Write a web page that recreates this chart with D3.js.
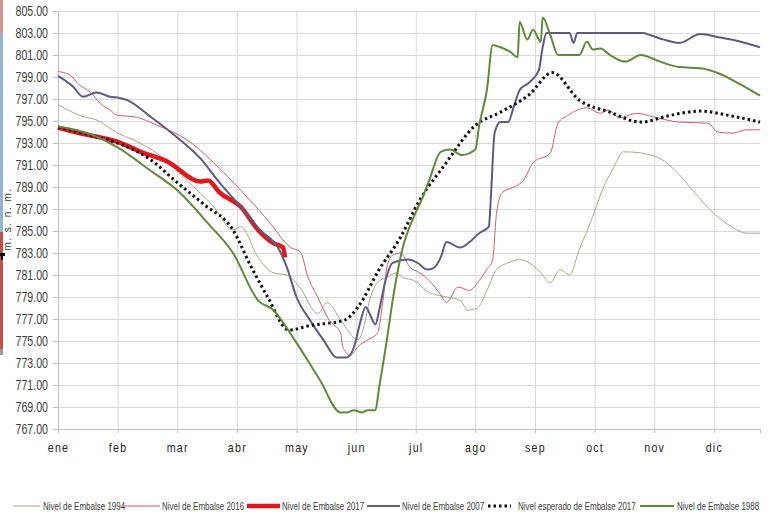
<!DOCTYPE html>
<html>
<head>
<meta charset="utf-8">
<script src="https://cdn.jsdelivr.net/npm/d3@7"></script>
<style>
  body { margin: 0; background: #fff; }
  svg { display: block; }
  text { font-family: "Liberation Sans", Arial, sans-serif; }
</style>
</head>
<body>
<svg width="771" height="515"></svg>
<script>
// **** Data (day of year, m.s.n.m.) ****
var months = ['ene','feb','mar','abr','may','jun','jul','ago','sep','oct','nov','dic'];
var yTicks = d3.range(767, 806, 2);

var nivel1994 = [[0,796.5],[13,795.4],[20,795.1],[31,793.9],[39,793.3],[55,791.6],[67,789.6],[81,787.2],[91,785.1],[95,785.4],[104,782.6],[112,781.2],[119,781.0],[126,779.8],[135,777.5],[140,778.5],[147,776.9],[156,775.1],[159,776.3],[162,778.7],[166,780.3],[171,780.8],[176,781.2],[179,780.8],[185,780.5],[193,779.4],[202,779.0],[209,778.7],[213,777.8],[218,778.0],[223,779.6],[228,781.5],[234,782.1],[240,782.4],[245,782.1],[251,781.2],[256,780.3],[261,781.5],[266,781.0],[271,783.3],[278,786.3],[283,788.7],[289,790.8],[294,792.2],[303,792.1],[308,791.9],[313,791.6],[322,790.3],[330,788.7],[341,786.6],[351,785.3],[358,784.8],[365,784.8]];

var nivel2016 = [[0,799.5],[6,799.2],[11,798.3],[17,797.6],[22,796.6],[27,796.0],[31,795.5],[39,795.4],[53,794.5],[67,793.3],[81,791.2],[95,788.7],[109,786.0],[121,783.5],[126,783.1],[130,780.8],[135,779.0],[141,776.9],[147,775.7],[148,774.5],[152,773.7],[156,774.5],[161,775.1],[166,775.7],[169,778.7],[171,781.7],[174,782.8],[178,783.0],[183,781.7],[188,781.2],[193,780.5],[199,779.2],[202,778.5],[208,779.9],[214,779.6],[219,780.5],[223,781.5],[226,782.4],[228,786.6],[231,788.5],[237,789.0],[242,789.6],[247,791.2],[256,792.1],[260,794.8],[265,795.5],[275,796.2],[282,795.7],[286,796.0],[292,795.3],[301,795.7],[309,795.4],[323,794.9],[338,794.8],[343,794.0],[351,793.9],[358,794.2],[365,794.2]];

var nivel2017 = [[0,794.4],[11,793.9],[22,793.5],[31,793.1],[43,792.2],[57,791.3],[74,789.5],[78,789.6],[84,788.5],[95,787.2],[104,785.1],[112,783.9],[117,783.5],[118,782.6]];

var nivel2007 = [[0,799.1],[8,798.1],[13,797.2],[20,797.6],[27,797.2],[32,797.1],[36,796.9],[48,795.4],[62,793.5],[74,791.6],[84,789.4],[95,787.2],[105,785.1],[115,783.3],[119,781.7],[124,779.0],[131,776.9],[138,775.1],[145,773.5],[150,773.5],[154,774.5],[157,776.6],[160,778.1],[162,777.5],[165,776.5],[167,777.8],[170,780.3],[174,782.1],[182,782.4],[187,782.1],[192,781.5],[195,781.6],[199,782.6],[202,784.0],[209,783.5],[214,784.0],[219,784.8],[224,785.4],[225,787.8],[227,793.9],[230,794.9],[234,794.9],[237,796.3],[240,797.8],[245,798.5],[250,799.6],[252,801.7],[254,803.0],[266,803.0],[268,802.1],[270,803.0],[304,803.0],[308,802.8],[315,802.4],[323,802.1],[334,802.9],[344,802.6],[355,802.2],[365,801.7]];

var esperado2017 = [[0,794.45],[17,793.7],[31,793.0],[48,791.5],[62,789.4],[76,787.4],[91,785.1],[100,781.9],[109,779.0],[120,776.0],[131,776.4],[149,776.9],[156,778.1],[167,781.5],[178,784.4],[188,787.8],[201,791.0],[217,794.6],[230,795.8],[245,797.4],[257,799.4],[271,796.9],[287,795.8],[303,794.9],[318,795.5],[334,795.9],[349,795.5],[365,794.9]];

var nivel1988 = [[0,794.5],[17,793.8],[31,792.6],[48,790.5],[62,788.7],[78,785.7],[91,783.0],[104,778.7],[112,777.8],[123,775.1],[136,771.5],[147,768.5],[150,768.5],[154,768.7],[158,768.5],[161,768.7],[165,768.7],[167,770.8],[171,775.1],[174,778.7],[179,783.3],[185,786.3],[189,787.8],[193,789.6],[199,792.2],[204,792.4],[210,791.9],[217,792.4],[219,794.6],[223,797.8],[226,801.9],[230,801.7],[235,801.3],[239,800.8],[240,804.0],[244,802.4],[247,803.3],[251,802.2],[252,804.4],[256,802.8],[260,801.0],[266,801.0],[271,801.0],[275,802.2],[278,801.5],[282,801.6],[287,801.0],[295,800.4],[303,801.0],[313,800.4],[323,799.9],[334,799.8],[344,799.3],[355,798.3],[365,797.3]];

var series = [
  { name: 'Nivel de Embalse 1994', data: nivel1994, color: '#a6a892', width: 1, dash: null, l1: 13, l2: 40, tx: 43 },
  { name: 'Nivel de Embalse 2016', data: nivel2016, color: '#c9606f', width: 1, dash: null, l1: 122, l2: 160, tx: 162 },
  { name: 'Nivel de Embalse 2017', data: nivel2017, color: '#e3161b', width: 4.5, dash: null, l1: 247, l2: 280, tx: 282 },
  { name: 'Nivel de Embalse 2007', data: nivel2007, color: '#5e5b7f', width: 2, dash: null, l1: 367, l2: 400, tx: 402 },
  { name: 'Nivel esperado de Embalse 2017', data: esperado2017, color: '#111111', width: 3, dash: '2.5,3', l1: 488, l2: 511, tx: 518 },
  { name: 'Nivel de Embalse 1988', data: nivel1988, color: '#62883b', width: 2, dash: null, l1: 640, l2: 674, tx: 677 }
];

// **** Scales and axes ****
var svg = d3.select('svg');
var plotLeft = 58, plotRight = 760, plotTop = 11, plotBottom = 429;
var narrow = 0.76;   // condensed look of the original font

var x = d3.scaleLinear().domain([0, 365]).range([plotLeft, plotRight]);
var y = d3.scaleLinear().domain([767, 805]).range([plotBottom, plotTop]);

// horizontal grid
svg.append('g')
    .attr('transform', 'translate(' + plotLeft + ',0)')
    .call(d3.axisLeft(y).tickValues(yTicks).tickSize(-(plotRight - plotLeft)).tickFormat(''))
    .call(g => g.select('.domain').remove())
    .call(g => g.selectAll('line').attr('stroke', '#d9d9d9'));

// vertical grid
svg.append('g')
    .attr('transform', 'translate(0,' + plotBottom + ')')
    .call(d3.axisBottom(x).tickValues(d3.range(31, 342, 31)).tickSize(-(plotBottom - plotTop)).tickFormat(''))
    .call(g => g.select('.domain').remove())
    .call(g => g.selectAll('line').attr('stroke', '#d9d9d9'));

svg.append('g').attr('class', 'y axis')
    .attr('transform', 'translate(' + plotLeft + ',0)')
    .call(d3.axisLeft(y).tickValues(yTicks).tickSize(5).tickFormat(d3.format('.2f')))
    .call(g => g.select('.domain').attr('stroke', '#bfbfbf'))
    .call(g => g.selectAll('line').attr('stroke', '#bfbfbf'))
    .call(g => g.selectAll('text')
        .attr('font-size', 14)
        .attr('fill', '#404040')
        .attr('x', -10 / narrow)
        .attr('transform', 'scale(' + narrow + ',1)'));

svg.append('g').attr('class', 'x axis')
    .attr('transform', 'translate(0,' + plotBottom + ')')
    .call(d3.axisBottom(x).tickValues(d3.range(0, 342, 31)).tickSize(4).tickPadding(10)
        .tickFormat(function(d, i) { return months[i]; }))
    .call(g => g.select('.domain').attr('stroke', '#bfbfbf'))
    .call(g => g.selectAll('line').attr('stroke', '#bfbfbf'))
    .call(g => g.selectAll('text')
        .attr('font-size', 13)
        .attr('fill', '#262626')
        .attr('letter-spacing', 1.5)
        .attr('transform', 'scale(0.82,1)'));

// Y-axis label
svg.append('text')
    .attr('transform', 'translate(11,219) rotate(-90)')
    .attr('text-anchor', 'middle')
    .attr('font-size', 10)
    .attr('letter-spacing', 1.5)
    .attr('fill', '#404040')
    .text('m. s. n. m.');

// **** Lines ****
var line = d3.line()
    .curve(d3.curveMonotoneX)
    .x(d => x(d[0]))
    .y(d => y(d[1]));

series.forEach(function(s) {
    var p = svg.append('path')
        .datum(s.data)
        .attr('fill', 'none')
        .attr('stroke', s.color)
        .attr('stroke-width', s.width)
        .attr('stroke-linejoin', 'round')
        .attr('d', line);
    if (s.dash) p.attr('stroke-dasharray', s.dash);
});

// **** Legend ****
var legend = svg.append('g').attr('transform', 'translate(0,506)');
series.forEach(function(s) {
    var l = legend.append('line')
        .attr('x1', s.l1).attr('x2', s.l2)
        .attr('stroke', s.color)
        .attr('stroke-width', s.width);
    if (s.dash) l.attr('stroke-dasharray', s.dash);
    legend.append('text')
        .attr('transform', 'translate(' + s.tx + ',0) scale(0.8,1)')
        .attr('dy', '0.35em')
        .attr('font-size', 10)
        .attr('fill', '#404040')
        .text(s.name);
});

// left edge strips of the original screenshot
var strips = [[0, 33, '#d99594'], [33, 232, '#95b3d7'], [232, 352, '#c0504d'], [349, 355, '#9a9a9a']];
strips.forEach(function(r) {
    svg.append('rect').attr('x', 0).attr('y', r[0]).attr('width', 3).attr('height', r[1] - r[0]).attr('fill', r[2]);
});
svg.append('rect').attr('x', 0).attr('y', 253).attr('width', 5).attr('height', 3).attr('fill', '#000');
svg.append('rect').attr('x', 1).attr('y', 253).attr('width', 2).attr('height', 7).attr('fill', '#000');
</script>
</body>
</html>
